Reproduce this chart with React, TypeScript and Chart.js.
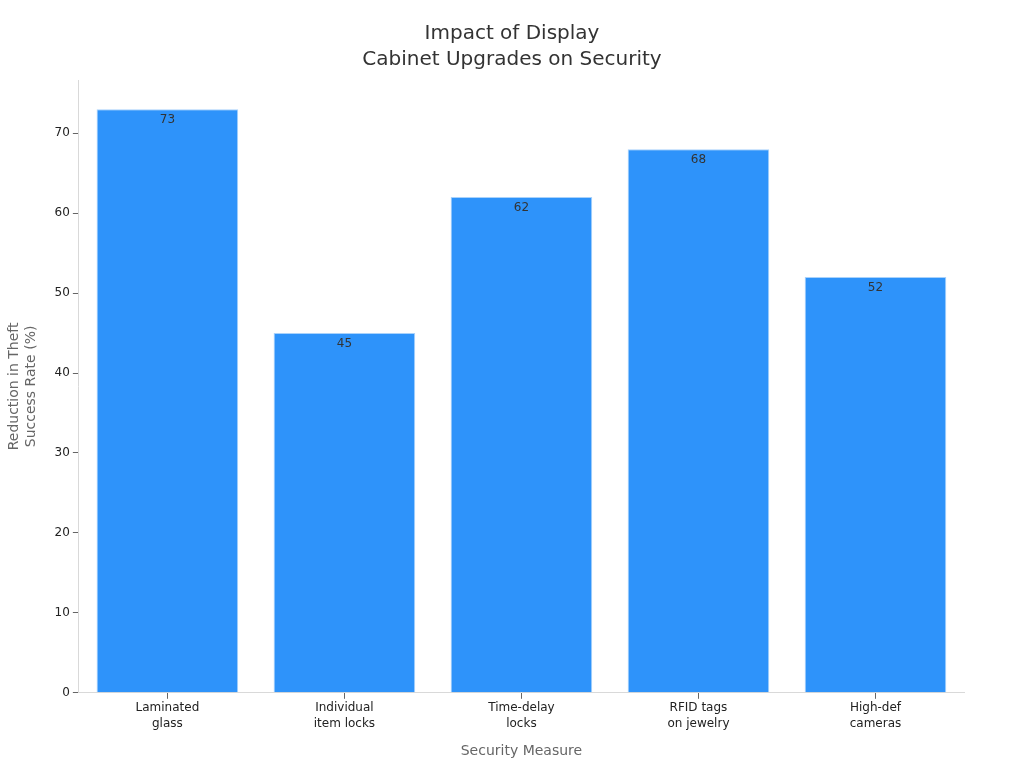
import React, { useEffect, useRef } from "react";
import { Chart, registerables } from "chart.js";

Chart.register(...registerables);

const categories: string[][] = [
  ["Laminated", "glass"],
  ["Individual", "item locks"],
  ["Time-delay", "locks"],
  ["RFID tags", "on jewelry"],
  ["High-def", "cameras"],
];
const values: number[] = [73, 45, 62, 68, 52];
const yMax = 76.65;
const titleLines: string[] = ["Impact of Display", "Cabinet Upgrades on Security"];

const FONT = "'DejaVu Sans', sans-serif";

const valueLabels = {
  id: "valueLabels",
  afterDatasetsDraw(chart: any) {
    const ctx = chart.ctx;
    const meta = chart.getDatasetMeta(0);
    ctx.save();
    ctx.font = `12px ${FONT}`;
    ctx.fillStyle = "#333333";
    ctx.textAlign = "center";
    ctx.textBaseline = "middle";
    meta.data.forEach((bar: any, i: number) => {
      ctx.fillText(String(values[i]), bar.x, bar.y + 11);
    });
    ctx.restore();
  },
};

const centeredTitle = {
  id: "centeredTitle",
  afterDraw(chart: any) {
    const ctx = chart.ctx;
    ctx.save();
    ctx.font = `20px ${FONT}`;
    ctx.fillStyle = "#333333";
    ctx.textAlign = "center";
    ctx.textBaseline = "middle";
    titleLines.forEach((line, i) => {
      ctx.fillText(line, chart.width / 2, 34 + i * 26);
    });
    ctx.restore();
  },
};

export default function App() {
  const ref = useRef<HTMLCanvasElement | null>(null);
  useEffect(() => {
    if (!ref.current) return;
    const chart = new Chart(ref.current, {
      type: "bar",
      data: {
        labels: categories,
        datasets: [
          {
            data: values,
            backgroundColor: "#2E93FA",
            borderColor: "#A9D2FB",
            borderWidth: 1,
            barPercentage: 0.8,
            categoryPercentage: 1,
          },
        ],
      },
      options: {
        animation: false,
        responsive: true,
        maintainAspectRatio: false,
        layout: { padding: { left: 6, right: 60, top: 80, bottom: 8 } },
        plugins: {
          legend: { display: false },
          tooltip: { enabled: false },
          title: { display: false },
        },
        scales: {
          x: {
            grid: {
              display: true,
              drawOnChartArea: false,
              drawTicks: true,
              tickLength: 6,
              offset: false,
              color: "#666666",
            },
            border: { color: "#d9d9d9" },
            ticks: {
              color: "#222222",
              font: { family: FONT, size: 12, lineHeight: 1.35 },
              padding: 1,
            },
            title: {
              display: true,
              text: "Security Measure",
              color: "#666666",
              font: { family: FONT, size: 14 },
              padding: { top: 10, bottom: 0 },
            },
          },
          y: {
            min: 0,
            max: yMax,
            afterBuildTicks: (scale: any) => {
              scale.ticks = scale.ticks.filter((t: any) => t.value % 10 === 0);
            },
            grid: {
              display: true,
              drawOnChartArea: false,
              drawTicks: true,
              tickLength: 6,
              color: "#666666",
            },
            border: { color: "#d9d9d9" },
            ticks: {
              stepSize: 10,
              color: "#222222",
              font: { family: FONT, size: 12 },
              padding: 3,
            },
            title: {
              display: true,
              text: ["Reduction in Theft", "Success Rate (%)"],
              color: "#666666",
              font: { family: FONT, size: 14 },
              padding: { top: 0, bottom: 12 },
            },
          },
        },
      },
      plugins: [valueLabels, centeredTitle],
    });
    return () => chart.destroy();
  }, []);
  return (
    <div style={{ position: "absolute", left: 0, top: 0, width: 1024, height: 768 }}>
      <canvas ref={ref} />
    </div>
  );
}
